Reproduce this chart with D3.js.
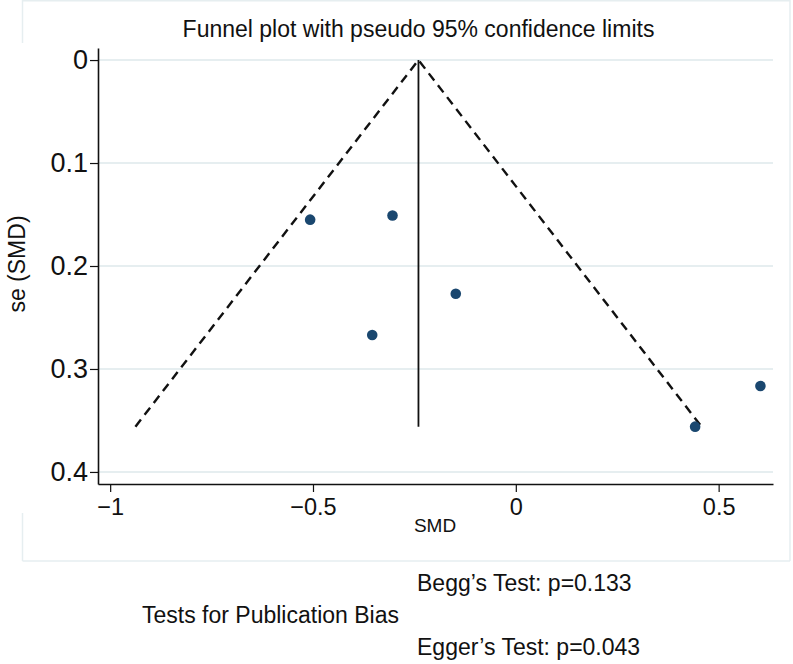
<!DOCTYPE html>
<html>
<head>
<meta charset="utf-8">
<script src="https://cdn.jsdelivr.net/npm/d3@7"></script>
<style>
  html, body { margin: 0; padding: 0; background: #fff; }
  svg { display: block; }
  text { font-family: "Liberation Sans", Arial, Helvetica, sans-serif; fill: #111; }
</style>
</head>
<body>
<svg id="chart" width="793" height="664"></svg>
<script>
// ---- data ----
const studySMD = [-0.507, -0.304, -0.354, -0.148, 0.442, 0.603];
const studySE  = [0.155, 0.151, 0.267, 0.227, 0.356, 0.3165];
const pooledSMD = [-0.240];
const seLimit = [0.356];
const zCrit = [1.96];
const yTicks = [0, 0.1, 0.2, 0.3, 0.4];
const xTicks = [-1, -0.5, 0, 0.5];
const titleText = ["Funnel plot with pseudo 95% confidence limits"];
const xTitle = ["SMD"];
const yTitle = ["se (SMD)"];
const noteLabels = ["Begg\u2019s Test: p=0.133", "Tests for Publication Bias", "Egger\u2019s Test: p=0.043"];

(function () {
// ---- layout ----
const svg = d3.select("#chart");
const pLeft = 98, pRight = 773, pTop = 48, pBottom = 484;

const x = d3.scaleLinear().domain([-1.03, 0.634]).range([pLeft, pRight]);
const y = d3.scaleLinear().domain([-0.0117, 0.4117]).range([pTop, pBottom]);

svg.append("rect").attr("width", 793).attr("height", 664).attr("fill", "#fff");

// faint outer graph frame
const frameCol = "#e6eef0";
const frame = svg.append("g").attr("stroke", frameCol).attr("stroke-width", 1.5).attr("fill", "none");
frame.append("line").attr("x1", 22.5).attr("x2", 790).attr("y1", 0.75).attr("y2", 0.75);
frame.append("line").attr("x1", 790).attr("x2", 790).attr("y1", 0).attr("y2", 561);
frame.append("line").attr("x1", 22.5).attr("x2", 790).attr("y1", 561).attr("y2", 561);
frame.append("line").attr("x1", 22.5).attr("x2", 22.5).attr("y1", 0).attr("y2", 43);
frame.append("line").attr("x1", 22.5).attr("x2", 22.5).attr("y1", 513).attr("y2", 561);

// gridlines
svg.append("g").selectAll("line").data(yTicks).join("line")
  .attr("x1", pLeft).attr("x2", pRight)
  .attr("y1", d => y(d)).attr("y2", d => y(d))
  .attr("stroke", "#e6eef0").attr("stroke-width", 2);

// axes
const yAxis = svg.append("g").attr("transform", `translate(${pLeft},0)`)
  .call(d3.axisLeft(y).tickValues(yTicks).tickSize(8).tickSizeOuter(0).tickPadding(2)
    .tickFormat(d => d3.format("~g")(d)));
yAxis.select(".domain").attr("stroke", "#111").attr("stroke-width", 1.6);
yAxis.selectAll(".tick line").attr("stroke", "#111").attr("stroke-width", 1.2);
yAxis.selectAll(".tick text").attr("font-size", 27).attr("font-family", "Liberation Sans, Arial, sans-serif").attr("fill", "#111");

const xAxis = svg.append("g").attr("transform", `translate(0,${pBottom})`)
  .call(d3.axisBottom(x).tickValues(xTicks).tickSize(8).tickSizeOuter(0).tickPadding(6)
    .tickFormat(d => d3.format("~g")(d)));
xAxis.select(".domain").attr("stroke", "#111").attr("stroke-width", 1.6);
xAxis.selectAll(".tick line").attr("stroke", "#111").attr("stroke-width", 1.2);
xAxis.selectAll(".tick text").attr("font-size", 23.5).attr("font-family", "Liberation Sans, Arial, sans-serif").attr("fill", "#111");

// funnel
const theta = pooledSMD[0], seMax = seLimit[0], z = zCrit[0];
const funnel = [[theta - z * seMax, seMax], [theta, 0], [theta + z * seMax, seMax]];
svg.append("path")
  .attr("d", d3.line().x(d => x(d[0])).y(d => y(d[1]))(funnel))
  .attr("fill", "none").attr("stroke", "#111").attr("stroke-width", 2.4)
  .attr("stroke-dasharray", "9,6");
svg.append("line")
  .attr("x1", x(theta)).attr("x2", x(theta))
  .attr("y1", y(0)).attr("y2", y(seMax))
  .attr("stroke", "#111").attr("stroke-width", 1.8);

// points
svg.append("g").selectAll("circle").data(studySMD.map((v, i) => [v, studySE[i]])).join("circle")
  .attr("cx", d => x(d[0])).attr("cy", d => y(d[1])).attr("r", 5.3)
  .attr("fill", "#1a476f");

// titles
svg.append("text").attr("x", 418.5).attr("y", 37).attr("text-anchor", "middle")
  .attr("font-size", 23).text(titleText[0]);
svg.append("text").attr("x", 435).attr("y", 532).attr("text-anchor", "middle")
  .attr("font-size", 19).text(xTitle[0]);
svg.append("text").attr("transform", "translate(25,264) rotate(-90)").attr("text-anchor", "middle")
  .attr("font-size", 23).text(yTitle[0]);

// notes
svg.append("text").attr("x", 417).attr("y", 591).attr("font-size", 23).text(noteLabels[0]);
svg.append("text").attr("x", 142).attr("y", 623).attr("font-size", 23).text(noteLabels[1]);
svg.append("text").attr("x", 417).attr("y", 655).attr("font-size", 23).text(noteLabels[2]);
})();
</script>
</body>
</html>
